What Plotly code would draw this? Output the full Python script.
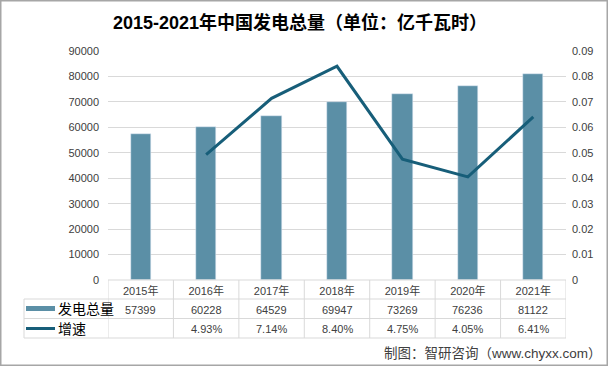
import plotly.graph_objects as go

years = ["2015年", "2016年", "2017年", "2018年", "2019年", "2020年", "2021年"]
generation = [57399, 60228, 64529, 69947, 73269, 76236, 81122]
growth = [None, 0.0493, 0.0714, 0.0840, 0.0475, 0.0405, 0.0641]
title_text = "2015-2021年中国发电总量（单位：亿千瓦时）"
series_names = ["发电总量", "增速"]
source_text = "制图：智研咨询（www.chyxx.com）"

W, H = 608, 366
BAR_C = "#5B8FA6"
LINE_C = "#175E79"
GRID_C = "#D9D9D9"
TXT_C = "#404040"
FONT = "Liberation Sans, Noto Sans CJK SC"


def py(y):
    return 1 - y / H


def px(x):
    return x / W


fig = go.Figure()
fig.add_trace(go.Bar(x=years, y=generation, marker_color=BAR_C, width=0.31,
                     name=series_names[0], yaxis="y"))
fig.add_trace(go.Scatter(x=years, y=growth, mode="lines", line=dict(color=LINE_C, width=3),
                         name=series_names[1], yaxis="y2"))

shapes = []
ann = []
# table rows
row_top, row1, row2, row3 = 280, 299, 318.5, 338
line = dict(color=GRID_C, width=1)
shapes.append(dict(type="line", xref="x", yref="paper", x0=-0.5, x1=6.5, y0=py(row_top), y1=py(row_top), line=line))
for yy in (row1, row2, row3):
    shapes.append(dict(type="line", xref="paper", yref="paper", x0=px(24), x1=px(566), y0=py(yy), y1=py(yy), line=line))
shapes.append(dict(type="line", xref="paper", yref="paper", x0=px(24), x1=px(24), y0=py(row1), y1=py(row3), line=line))
for k in range(len(years) + 1):
    xv = k - 0.5
    shapes.append(dict(type="line", xref="x", yref="paper", x0=xv, x1=xv, y0=py(row_top), y1=py(row3), line=line))

# legend swatches in table
shapes.append(dict(type="rect", xref="paper", yref="paper", x0=px(26), x1=px(55), y0=py(311), y1=py(306),
                   fillcolor=BAR_C, line=dict(width=0)))
shapes.append(dict(type="line", xref="paper", yref="paper", x0=px(26), x1=px(55), y0=py(328.5), y1=py(328.5),
                   line=dict(color=LINE_C, width=3)))
# outer frame
shapes.append(dict(type="rect", xref="paper", yref="paper", x0=0, x1=1, y0=0, y1=1,
                   line=dict(color="#A6A6A6", width=3), fillcolor="rgba(0,0,0,0)"))

ann.append(dict(xref="paper", yref="paper", x=px(56), y=py(308.5), text=series_names[0], showarrow=False,
                xanchor="left", yanchor="middle", font=dict(size=14, color="#000000", family=FONT)))
ann.append(dict(xref="paper", yref="paper", x=px(56), y=py(328.5), text=series_names[1], showarrow=False,
                xanchor="left", yanchor="middle", font=dict(size=14, color="#000000", family=FONT)))
for yr, v in zip(years, generation):
    ann.append(dict(xref="x", yref="paper", x=yr, y=py(309.5), text=str(v), showarrow=False,
                    yanchor="middle", font=dict(size=11, color=TXT_C, family=FONT)))
for yr, g in zip(years, growth):
    if g is None:
        continue
    ann.append(dict(xref="x", yref="paper", x=yr, y=py(329), text=f"{g*100:.2f}%", showarrow=False,
                    yanchor="middle", font=dict(size=11, color=TXT_C, family=FONT)))
ann.append(dict(xref="paper", yref="paper", x=px(604), y=py(353), text=source_text, showarrow=False,
                xanchor="right", yanchor="middle", font=dict(size=13.5, color="#404040", family=FONT)))
ann.append(dict(xref="paper", yref="paper", x=px(300), y=py(23), text="<b>" + title_text + "</b>", showarrow=False,
                xanchor="center", yanchor="middle", font=dict(size=18, color="#000000", family=FONT)))

fig.update_layout(
    width=W, height=H,
    margin=dict(l=0, r=0, t=0, b=0),
    paper_bgcolor="white", plot_bgcolor="white",
    showlegend=False,
    bargap=0,
    font=dict(family=FONT, size=11, color=TXT_C),
    xaxis=dict(domain=[px(108), px(566)], range=[-0.5, 6.5], type="category", showgrid=False,
               showline=False, ticks="", tickfont=dict(size=11, color=TXT_C), automargin=False,
               ticklabelstandoff=3),
    yaxis=dict(domain=[py(280), py(51)], range=[0, 90000], dtick=10000, tickformat="d",
               showgrid=True, gridcolor=GRID_C, gridwidth=1, zeroline=False, showline=False,
               ticks="", tickfont=dict(size=11, color=TXT_C), automargin=False, ticklabelstandoff=8),
    yaxis2=dict(overlaying="y", side="right", range=[0, 0.09], dtick=0.01, showgrid=False,
                zeroline=False, showline=False, ticks="", tickfont=dict(size=11, color=TXT_C),
                automargin=False, anchor="x", ticklabelstandoff=5),
    shapes=shapes,
    annotations=ann,
)

fig.write_html("out.html", config={"displayModeBar": False},
               post_script="document.body.style.margin='0';document.body.style.padding='0';document.body.style.overflow='hidden';")
